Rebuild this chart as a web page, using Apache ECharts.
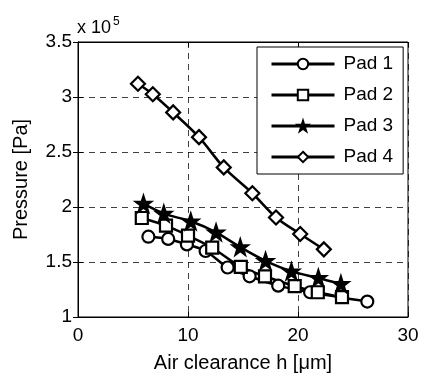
<!DOCTYPE html>
<html><head><meta charset="utf-8">
<script src="https://cdn.jsdelivr.net/npm/echarts@6/dist/echarts.min.js"></script>
<style>html,body{margin:0;padding:0;background:#fff}#c{width:421px;height:375px}</style>
</head><body><div id="c"></div>
<script>
const seriesNames = ['Pad 1', 'Pad 2', 'Pad 3', 'Pad 4'];
const pad1X = [6.4, 8.2, 9.9, 11.6, 13.6, 15.6, 18.2, 21.1, 26.3];
const pad1Y = [1.73, 1.71, 1.66, 1.60, 1.45, 1.37, 1.285, 1.225, 1.14];
const pad2X = [5.8, 8.0, 10.0, 12.2, 14.8, 17.0, 19.7, 21.8, 24.0];
const pad2Y = [1.90, 1.83, 1.74, 1.63, 1.455, 1.37, 1.28, 1.225, 1.18];
const pad3X = [5.95, 7.8, 10.25, 12.55, 14.75, 17.05, 19.4, 21.85, 23.9];
const pad3Y = [2.03, 1.94, 1.87, 1.77, 1.635, 1.51, 1.415, 1.355, 1.30];
const pad4X = [5.45, 6.8, 8.65, 11.0, 13.25, 15.85, 18.0, 20.2, 22.35];
const pad4Y = [3.12, 3.025, 2.86, 2.635, 2.36, 2.125, 1.905, 1.755, 1.615];
const xTicks = [0, 10, 20, 30];
const yTicks = [1, 1.5, 2, 2.5, 3, 3.5];

const STAR = 'path://M50,0 L61.8,35.3 L98.9,35.3 L68.9,57.1 L80.3,92.7 L50,70.8 L19.7,92.7 L31.1,57.1 L1.1,35.3 L38.2,35.3 Z';
const FONT = 'Liberation Sans';
const pair = (xs, ys) => xs.map((x, i) => [x, ys[i]]);

const mk = (name, xs, ys, symbol, size, fill) => ({
  name, type: 'line', data: pair(xs, ys), smooth: 0.3,
  symbol, symbolSize: size, showAllSymbol: true,
  lineStyle: { color: '#000', width: 2.5 },
  itemStyle: { color: fill, borderColor: '#000', borderWidth: 2.2 },
  emphasis: { disabled: true }, animation: false
});

const chart = echarts.init(document.getElementById('c'), null, { renderer: 'canvas' });
const axisCommon = {
  axisLine: { show: true, lineStyle: { color: '#000', width: 1 } },
  axisTick: { show: true, inside: true, length: 5, lineStyle: { color: '#000' } },
};
chart.setOption({
  animation: false,
  textStyle: { fontFamily: FONT },
  grid: { left: 78, right: 13, top: 42, bottom: 58, show: true, borderColor: '#000', borderWidth: 1, backgroundColor: '#fff', containLabel: false, outerBoundsMode: 'none' },
  xAxis: [{
    type: 'value', min: xTicks[0], max: xTicks[xTicks.length - 1], interval: 10,
    ...axisCommon,
    axisLabel: { color: '#000', fontSize: 19, fontFamily: FONT, margin: 9 },
    splitLine: { show: true, lineStyle: { color: '#000', type: [6, 5], width: 1, opacity: 0.75 } },
    name: 'Air clearance h [\u03bcm]', nameLocation: 'middle', nameGap: 36,
    nameTextStyle: { color: '#000', fontSize: 20, fontFamily: FONT }
  }, {
    type: 'value', position: 'top', min: 0, max: 30, interval: 10,
    ...axisCommon, axisLabel: { show: false }, splitLine: { show: false }
  }],
  yAxis: [{
    type: 'value', min: yTicks[0], max: yTicks[yTicks.length - 1], interval: 0.5,
    ...axisCommon,
    axisLabel: { color: '#000', fontSize: 19, fontFamily: FONT, margin: 6 },
    splitLine: { show: true, lineStyle: { color: '#000', type: [6, 5], width: 1, opacity: 0.75 } },
    name: 'Pressure [Pa]', nameLocation: 'middle', nameGap: 47,
    nameTextStyle: { color: '#000', fontSize: 20, fontFamily: FONT }
  }, {
    type: 'value', position: 'right', min: 1, max: 3.5, interval: 0.5,
    ...axisCommon, axisLabel: { show: false }, splitLine: { show: false }
  }],
  legend: {
    left: 257, top: 47, orient: 'vertical',
    width: 146,
    backgroundColor: '#fff', borderColor: '#000', borderWidth: 1,
    padding: [7, 10, 7, 13],
    itemWidth: 63, itemHeight: 13, itemGap: 11,
    textStyle: { color: '#000', fontSize: 19, fontFamily: FONT, lineHeight: 20, padding: [0, 0, 0, 4] },
    lineStyle: { width: 3 },
    data: seriesNames,
    selectedMode: false
  },
  graphic: [{
    type: 'text', left: 77, top: 16,
    style: {
      text: 'x 10{s|5}', fill: '#000', font: '18px "Liberation Sans"',
      rich: { s: { fontSize: 12, verticalAlign: 'top', padding: [0, 0, 12, 2], fontFamily: FONT } }
    }
  }],
  series: [
    mk(seriesNames[0], pad1X, pad1Y, 'circle', 12, '#fff'),
    mk(seriesNames[1], pad2X, pad2Y, 'rect', 12, '#fff'),
    mk(seriesNames[2], pad3X, pad3Y, STAR, 15, '#000'),
    mk(seriesNames[3], pad4X, pad4Y, 'diamond', 14, '#fff')
  ]
});
</script></body></html>
